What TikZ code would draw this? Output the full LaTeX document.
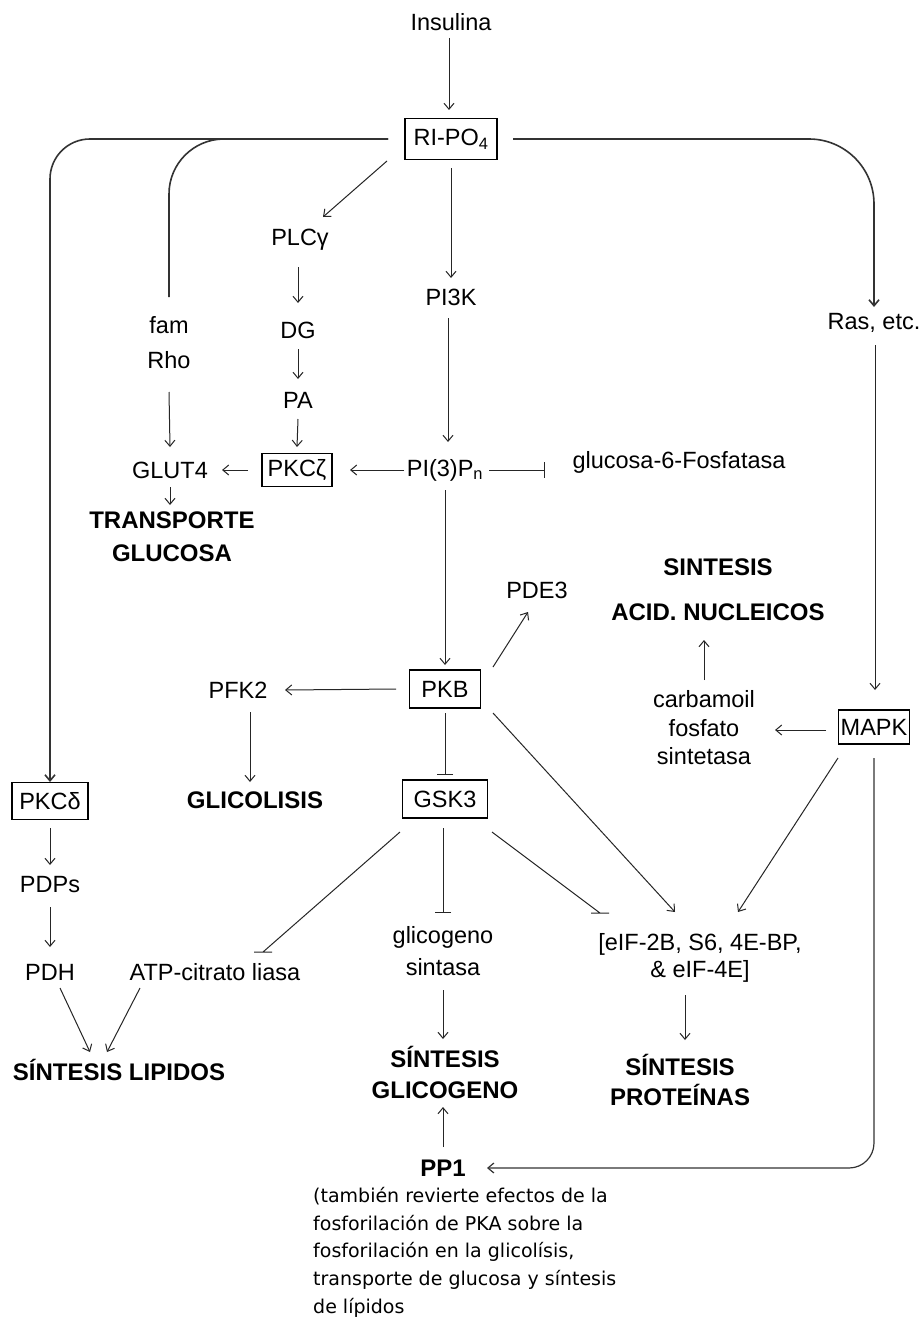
\documentclass[tikz,border=0pt]{standalone}
\usepackage{fontspec}
\setmainfont{Liberation Sans}
\newfontfamily\notefont{DejaVu Sans}
\usetikzlibrary{arrows.meta,calc}

\begin{document}
\begin{tikzpicture}[x=1pt,y=-1pt,
  lbl/.style={font=\fontsize{23.5}{27}\selectfont, inner sep=2pt, align=center},
  hd/.style={font=\fontsize{24}{31}\selectfont\bfseries, inner sep=2pt, align=center},
  boxed/.style={lbl, draw, line width=1.3pt, inner xsep=2pt, inner ysep=3pt, minimum height=38pt},
  link/.style={line width=1pt, draw=black!85},
  arr/.style={link, -{Straight Barb[length=6pt,width=10pt]}},
  inh/.style={link, -{Bar[width=16pt]}},
  trunk/.style={line width=1.6pt, draw=black!80},
  trunkarr/.style={trunk, -{Straight Barb[length=6pt,width=10pt]}},
  note/.style={font=\notefont\fontsize{19}{27.7}\selectfont, align=left, inner sep=0pt},
]
\useasboundingbox (0,0) rectangle (923,1319);
\fill[white] (0,0) rectangle (923,1319);

% ---- nodes ----
\node[lbl] (ins) at (451,22) {Insulina};
\node[boxed, minimum width=92pt, minimum height=41pt] (ripo) at (451,139) {RI-PO\textsubscript{4}};
\node[lbl] (plc) at (300,240) {PLCγ};
\node[lbl] (dg) at (298,330) {DG};
\node[lbl] (pa) at (298,400) {PA};
\node[boxed, minimum width=70pt, minimum height=33pt] (pkcz) at (297,470) {PKCζ};
\node[lbl] (glut) at (170,470) {GLUT4};
\node[lbl, font=\fontsize{23.5}{35}\selectfont] (rho) at (169,343) {fam\\Rho};
\node[hd, font=\fontsize{24}{33}\selectfont\bfseries] (trans) at (172,537) {TRANSPORTE\\GLUCOSA};
\node[lbl] (pi3k) at (451,297) {PI3K};
\node[lbl] (pip) at (445,470) {PI(3)P\textsubscript{n}};
\node[lbl] (g6p) at (679,462) {glucosa-6-Fosfatasa};
\node[lbl] (ras) at (874,323) {Ras, etc.};
\node[boxed, minimum width=71pt] (pkb) at (445,689) {PKB};
\node[lbl] (pde) at (537,590) {PDE3};
\node[hd, font=\fontsize{24}{45}\selectfont\bfseries] (nuc) at (718,590) {SINTESIS\\ACID. NUCLEICOS};
\node[lbl, font=\fontsize{23.5}{28.5}\selectfont] (carb) at (704,728) {carbamoil\\fosfato\\sintetasa};
\node[boxed, minimum width=68pt, minimum height=34pt] (mapk) at (874,727) {MAPK};
\node[lbl] (pfk) at (238,690) {PFK2};
\node[hd] (glic) at (255,800) {GLICOLISIS};
\node[boxed, minimum width=85pt] (gsk) at (445,799) {GSK3};
\node[boxed, minimum width=76pt, minimum height=37pt] (pkcd) at (50,801) {PKCδ};
\node[lbl] (pdps) at (50,885) {PDPs};
\node[lbl] (pdh) at (50,972) {PDH};
\node[lbl] (atp) at (215,972) {ATP-citrato liasa};
\node[hd] (lip) at (119,1070) {SÍNTESIS LIPIDOS};
\node[lbl, font=\fontsize{23.5}{32}\selectfont] (gs) at (443,951) {glicogeno\\sintasa};
\node[hd] (sgl) at (445,1072) {SÍNTESIS\\GLICOGENO};
\node[lbl] (eif) at (700,958) {[eIF-2B, S6, 4E-BP,\\\& eIF-4E]};
\node[hd, font=\fontsize{24}{30}\selectfont\bfseries] (spr) at (680,1080) {SÍNTESIS\\PROTEÍNAS};
\node[hd] (pp1) at (443,1168) {PP1};
\node[note, anchor=north west] (nota) at (313,1187) {(también revierte efectos de la\\fosforilación de PKA sobre la\\fosforilación en la glicolísis,\\transporte de glucosa y síntesis\\de lípidos};

% ---- receptor branches ----
\draw[arr] ($(ins)+(-2,16)$) -- ($(ripo)+(-2,-29)$);
\draw[trunkarr, rounded corners=40pt] ($(ripo)+(-63,0)$) -- (pkcd |- ripo) -- ($(pkcd)+(0,-19)$);
\draw[trunk, rounded corners=55pt] ($(ripo)+(-63,0)$) -- (rho |- ripo) -- ($(rho)+(0,-46)$);
\draw[trunkarr, rounded corners=65pt] ($(ripo)+(62,0)$) -- (ras |- ripo) -- ($(ras)+(0,-16)$);
\draw[arr] ($(ripo)+(-64,22)$) -- ($(plc)+(23,-23)$);
\draw[arr] ($(ripo)+(0,29)$) -- ($(pi3k)+(0,-19)$);

% ---- PLC / PI3K cascade ----
\draw[arr] ($(plc)+(-2,27)$) -- ($(dg)+(0,-27)$);
\draw[arr] ($(dg)+(0,19)$) -- ($(pa)+(0,-21)$);
\draw[arr] ($(pa)+(0,19)$) -- ($(pkcz)+(0,-23)$);
\draw[arr] ($(pi3k)+(-3,21)$) -- ($(pip)+(3,-28)$);
\draw[arr] ($(pip)+(-41,0)$) -- ($(pkcz)+(53,0)$);
\draw[arr] ($(pkcz)+(-49,0)$) -- ($(glut)+(52,0)$);
\draw[inh] ($(pip)+(44,0)$) -- ($(g6p)+(-134,8)$);
\draw[arr] ($(rho)+(0,49)$) -- ($(glut)+(0,-23)$);
\draw[arr] ($(glut)+(0,17)$) -- ($(trans)+(-2,-32)$);
\draw[arr] ($(pip)+(0,20)$) -- ($(pkb)+(0,-24)$);

% ---- PKB targets ----
\draw[arr] ($(pkb)+(48,-22)$) -- ($(pde)+(-9,22)$);
\draw[arr] ($(pkb)+(-49,0)$) -- ($(pfk)+(47,0)$);
\draw[arr] ($(pfk)+(12,22)$) -- ($(glic)+(-5,-18)$);
\draw[inh] ($(pkb)+(0,24)$) -- ($(gsk)+(0,-24)$);
\draw[arr] ($(pkb)+(48,24)$) -- ($(eif)+(-25,-46)$);

% ---- MAPK branch ----
\draw[arr] ($(ras)+(1,22)$) -- ($(mapk)+(1,-37)$);
\draw[arr] ($(mapk)+(-48,3)$) -- ($(carb)+(71,2)$);
\draw[arr] ($(carb)+(0,-48)$) -- ($(nuc)+(-14,50)$);
\draw[arr] ($(mapk)+(-36,31)$) -- ($(eif)+(38,-46)$);
\draw[trunkarr, line width=1.2pt, rounded corners=25pt] ($(mapk)+(0,31)$) -- (mapk |- pp1) -- ($(pp1)+(44,0)$);

% ---- GSK3 targets ----
\draw[link] ($(gsk)+(47,33)$) -- ($(eif)+(-100,-45)$) ++(-9,0) -- ++(18,0);
\draw[link] ($(gsk)+(-45,33)$) -- ($(atp)+(48,-20)$) ++(-9,0) -- ++(18,0);
\draw[inh] ($(gsk)+(-2,29)$) -- ($(gs)+(0,-38)$);
\draw[arr] ($(gs)+(0,39)$) -- ($(sgl)+(-2,-33)$);
\draw[arr] ($(pp1)+(0,-21)$) -- ($(sgl)+(-2,35)$);
\draw[arr] ($(eif)+(-15,37)$) -- ($(spr)+(5,-40)$);

% ---- PKC delta / lipids ----
\draw[arr] ($(pkcd)+(0,27)$) -- ($(pdps)+(0,-20)$);
\draw[arr] ($(pdps)+(0,22)$) -- ($(pdh)+(0,-25)$);
\draw[arr] ($(pdh)+(10,16)$) -- ($(lip)+(-29,-18)$);
\draw[arr] ($(atp)+(-75,16)$) -- ($(lip)+(-12,-18)$);
\end{tikzpicture}
\end{document}
